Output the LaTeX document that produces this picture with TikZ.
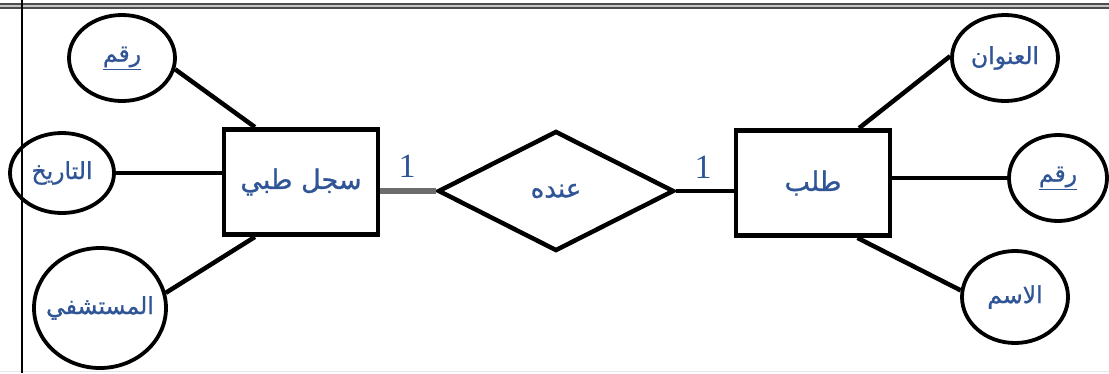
\documentclass[tikz,border=0pt]{standalone}
\usepackage{fontspec}
\usetikzlibrary{shapes.geometric, positioning}
\TeXXeTstate=1
\newfontfamily\arabicfont[Script=Arabic, FakeBold=0.9]{DejaVu Sans}
\newfontfamily\digitfont{Liberation Serif}
\definecolor{erblue}{HTML}{2F5597}

\begin{document}
\begin{tikzpicture}[
  x=1pt, y=-1pt,
  entity/.style={rectangle, draw=black, line width=4.8pt, inner sep=0pt, minimum width=154pt, minimum height=105pt, text=erblue, font=\fontsize{27}{30}\arabicfont},
  attrib/.style={ellipse, draw=black, line width=3.8pt, inner sep=-10pt, text=erblue, font=\fontsize{23.5}{27}\arabicfont},
  relation/.style={diamond, draw=black, line width=4.5pt, inner sep=0pt, minimum width=236pt, minimum height=120pt, text=erblue, font=\fontsize{26}{29}\arabicfont},
  link/.style={line width=4.5pt, color=black},
  card/.style={text=erblue, font=\fontsize{34}{38}\digitfont}
]
  \fill[white] (0,0) rectangle (1109,373);
  \useasboundingbox (0,0) rectangle (1109,373);

  % entities and relationship
  \node[entity] (record) at (301,182) {\beginR سجل طبي\endR};
  \node[relation] (has) at (556,191) {\beginR عنده\endR};
  \node[entity] (student) at (813,183) {\beginR طلب\endR};

  % attributes of the medical record
  \node[attrib, minimum width=106pt, minimum height=86pt] (recnum) at (122,58) {\underline{\beginR رقم\endR}};
  \node[attrib, minimum width=104pt, minimum height=80pt] (recdate) at (62,173) {\beginR التاريخ\endR};
  \node[attrib, minimum width=132pt, minimum height=120pt] (hospital) at (100,308) {\beginR المستشفي\endR};

  % attributes of the student
  \node[attrib, minimum width=106pt, minimum height=86pt] (address) at (1005,58) {\beginR العنوان\endR};
  \node[attrib, minimum width=98pt, minimum height=86pt] (stnum) at (1058,178) {\underline{\beginR رقم\endR}};
  \node[attrib, minimum width=106pt, minimum height=92pt] (stname) at (1015,297) {\beginR الاسم\endR};

  % cardinalities
  \node[card] (cardleft) at (407,166) {1};
  \node[card] (cardright) at (703,167) {1};

  \draw[link] (recnum.-12) -- (record.130);
  \draw[link] (recdate.east) -- (recdate.east -| record.west);
  \draw[link] (hospital.13) -- (record.230);
  \draw[link] (student.50) -- (address.178);
  \draw[link] (student.east |- stnum.west) -- (stnum.west);
  \draw[link] (student.309) -- (stname.173);
  \draw[link, line width=5.5pt, color=gray!85!black] (record.east |- has.west) -- (has.west);
  \draw[link] (has.east) -- (has.east -| student.west);

  % page rules
  \draw[line width=1.6pt, draw=gray!60!black, double=gray!45, double distance=2.5pt] (0,6) -- (1109,6);
  \draw[gray!20, line width=1pt] (0,371) -- (1109,371);
  \draw[line width=1.8pt] (22,0) -- (22,373);
\end{tikzpicture}
\end{document}
